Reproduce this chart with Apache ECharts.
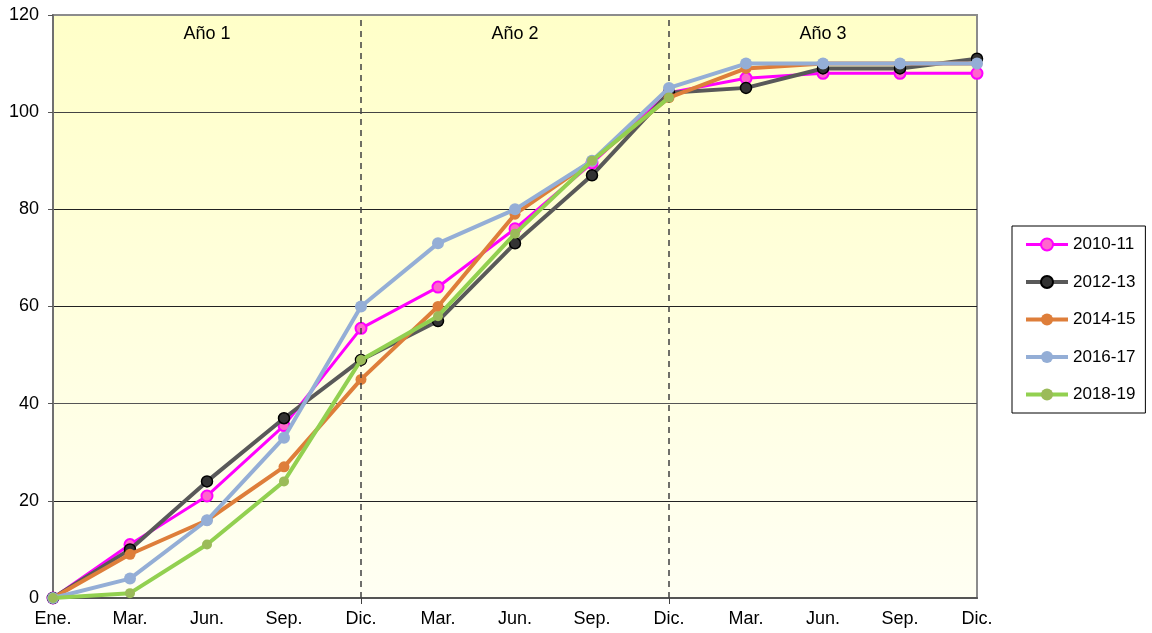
<!DOCTYPE html>
<html>
<head>
<meta charset="utf-8">
<script src="https://cdn.jsdelivr.net/npm/echarts@6/dist/echarts.min.js"></script>
<style>html,body{margin:0;padding:0;background:#fff;}#c{width:1152px;height:633px;}</style>
</head>
<body>
<div id="c"></div>
<script>
const categories = ['Ene.','Mar.','Jun.','Sep.','Dic.','Mar.','Jun.','Sep.','Dic.','Mar.','Jun.','Sep.','Dic.'];
const yTicks = [0, 20, 40, 60, 80, 100, 120];
const yearLabels = ['Año 1', 'Año 2', 'Año 3'];
const s2010 = [0, 11, 21, 35.5, 55.5, 64, 76, 89.5, 104, 107, 108, 108, 108];
const s2012 = [0, 10, 24, 37, 49, 57, 73, 87, 104, 105, 109, 109, 111];
const s2014 = [0, 9, 16, 27, 45, 60, 79, 90, 103, 109, 110, 110, 110];
const s2016 = [0, 4, 16, 33, 60, 73, 80, 90, 105, 110, 110, 110, 110];
const s2018 = [0, 1, 11, 24, 49, 58, 75, 90, 103];

const FONT = 'Liberation Sans, Arial, sans-serif';
const chart = echarts.init(document.getElementById('c'));

function mk(name, data, lineColor, lineWidth, fill, border, borderW, size, z) {
  return {
    name, type: 'line', data, symbol: 'circle', symbolSize: size, z,
    lineStyle: { color: lineColor, width: lineWidth },
    itemStyle: { color: fill, borderColor: border, borderWidth: borderW },
    emphasis: { disabled: true }, animation: false
  };
}

const series = [
  mk('2010-11', s2010, '#FF00FF', 3, '#FF66CC', '#FF00FF', 2, 11, 2),
  mk('2012-13', s2012, '#595959', 4, '#333333', '#000000', 1.5, 11, 3),
  mk('2014-15', s2014, '#DE7E3A', 4, '#DE7E3A', '#DE7E3A', 0, 11, 4),
  mk('2016-17', s2016, '#94AED6', 4, '#94AED6', '#94AED6', 0, 12, 5),
  mk('2018-19', s2018, '#92D050', 4, '#9BBB59', '#9BBB59', 0, 10, 6)
];

series[0].markLine = {
  silent: true, symbol: 'none', label: { show: false },
  lineStyle: { color: '#404040', type: [6, 5], width: 1.5 },
  data: [{ xAxis: 4 }, { xAxis: 8 }]
};
series[0].markArea = {
  silent: true,
  itemStyle: { color: 'rgba(0,0,0,0)' },
  label: { show: true, position: 'insideTop', distance: 10, color: '#000', fontSize: 18, fontFamily: FONT },
  data: [
    [{ xAxis: 0, name: yearLabels[0] }, { xAxis: 4 }],
    [{ xAxis: 4, name: yearLabels[1] }, { xAxis: 8 }],
    [{ xAxis: 8, name: yearLabels[2] }, { xAxis: 12 }]
  ]
};

chart.setOption({
  animation: false,
  backgroundColor: '#fff',
  grid: {
    left: 53, right: 175, top: 15, bottom: 35, show: true,
    borderColor: '#8c8c8c', borderWidth: 2,
    backgroundColor: { type: 'linear', x: 0, y: 0, x2: 0, y2: 1,
      colorStops: [{ offset: 0, color: '#FFFFC8' }, { offset: 1, color: '#FFFFF3' }] }
  },
  legend: {
    orient: 'vertical', left: 1012, top: 226,
    padding: [10, 10, 10, 12], itemGap: 20.5, itemWidth: 42, itemHeight: 15,
    borderColor: '#000', borderWidth: 1,
    textStyle: { fontSize: 17, fontFamily: FONT, color: '#000' },
    data: series.map(s => ({ name: s.name, lineStyle: { width: s.lineStyle.width } }))
  },
  xAxis: {
    type: 'category', data: categories, boundaryGap: false,
    axisLine: { lineStyle: { color: '#555', width: 2 } },
    axisTick: { show: true, length: 6, interval: (i) => i === 4 || i === 8, lineStyle: { color: '#404040' } },
    axisLabel: { color: '#000', fontSize: 18, fontFamily: FONT, margin: 12, interval: 0 },
    splitLine: { show: false }
  },
  yAxis: {
    type: 'value', min: yTicks[0], max: yTicks[yTicks.length - 1], interval: 20,
    axisLine: { show: true, lineStyle: { color: '#707070', width: 2 } },
    axisTick: { show: true, length: 5, lineStyle: { color: '#555' } },
    axisLabel: { color: '#000', fontSize: 18, fontFamily: FONT, margin: 14 },
    splitLine: { show: true, lineStyle: { color: ['#555', '#222', '#555', '#222', '#222', '#444', '#8c8c8c'], width: 1 } }
  },
  series
});
</script>
</body>
</html>
